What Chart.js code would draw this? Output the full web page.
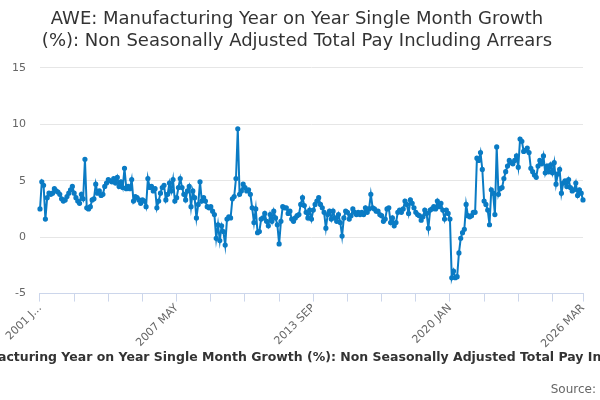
<!DOCTYPE html>
<html lang="en">
<head>
    <meta charset="UTF-8">
    <title>AWE: Manufacturing Year on Year Single Month Growth</title>
    <script src="https://cdn.jsdelivr.net/npm/chart.js"></script>
    <style>
        html, body { margin: 0; padding: 0; background: #fff; }
        #wrap { width: 600px; height: 400px; }
    </style>
</head>
<body>
    <div id="wrap"><canvas id="aweChart"></canvas></div>

    <script>
        // Monthly series, 2001 JAN .. 2026 MAR
        const startYear = 2001;
        const monthNames = ['JAN', 'FEB', 'MAR', 'APR', 'MAY', 'JUN', 'JUL', 'AUG', 'SEP', 'OCT', 'NOV', 'DEC'];

        const growth2001to2005 = [
            2.5, 4.9, 4.6, 1.6, 3.5, 3.9, 3.8, 3.9, 4.3, 4.1, 4.0, 3.8, 3.4, 3.2, 3.3, 3.6, 3.9, 4.2, 4.5, 3.9,
            3.5, 3.2, 3.0, 3.8, 3.4, 6.9, 2.6, 2.5, 2.7, 3.3, 3.4, 4.7, 3.9, 4.1, 3.7, 3.8, 4.5, 4.8, 5.1, 5.0,
            4.9, 5.2, 4.8, 5.3, 4.5, 4.9, 4.4, 6.1, 4.3, 4.5
        ];
        const growth2005to2009 = [
            4.3, 5.1, 3.2, 3.6, 3.5, 3.3, 3.0, 3.3, 3.2, 2.7, 5.2, 4.4, 4.5, 4.1, 4.3, 2.6, 3.2, 3.9, 4.4, 4.6,
            3.3, 3.8, 4.8, 4.1, 5.1, 3.2, 3.5, 4.4, 5.2, 4.4, 3.8, 3.3, 4.1, 4.5, 2.7, 4.1, 3.5, 1.7, 2.9, 4.9,
            3.2, 3.5, 3.2, 2.7, 2.6, 2.7, 2.3, 2.0, -0.1, 1.1, -0.3, 1.0, 0.5, -0.7
        ];
        const growth2009to2013 = [
            1.6, 1.8, 1.7, 3.4, 3.6, 5.2, 9.6, 3.8, 4.1, 4.7, 4.4, 4.1, 4.2, 3.8, 2.6, 1.3, 2.5, 0.4, 0.5, 1.6,
            1.7, 2.1, 1.4, 1.0, 2.0, 1.4, 2.3, 1.7, 1.1, -0.6, 1.4, 2.7, 2.6, 2.6, 2.1, 2.3, 1.6, 1.4, 1.7, 1.9,
            2.0, 2.9, 3.5
        ];
        const growth2013to2017 = [
            2.8, 2.2, 1.7, 2.4, 1.6, 2.4, 2.9, 3.2, 3.5, 2.9, 2.6, 2.2, 0.8, 2.0, 2.3, 1.6, 2.3, 1.7, 1.4, 2.0,
            1.3, 0.1, 1.7, 2.3, 2.2, 1.6, 1.9, 2.5, 2.2, 2.0, 2.2, 2.0, 2.2, 2.0, 2.6, 2.2, 2.5, 3.8, 2.6, 2.5,
            2.3, 2.3, 2.0, 1.9, 1.4, 1.6, 2.5, 2.6, 1.3, 1.7, 1.0, 1.3, 2.2, 2.4, 2.2, 2.5, 3.2
        ];
        const growth2018to2021 = [
            2.9, 2.1, 3.3, 3.0, 2.6, 2.2, 2.0, 1.9, 1.5, 1.8, 2.4, 2.1, 0.8, 2.4, 2.5, 2.7, 2.5, 3.2, 2.7, 3.0,
            2.4, 1.6, 2.4, 2.1, 1.6, -3.6, -3.0, -3.6, -3.5, -1.4, -0.1, 0.4, 0.7, 2.9, 1.9, 1.8, 1.9, 2.2, 2.2
        ];
        const growth2021to2026 = [
            7.0, 6.8, 7.5, 6.0, 3.2, 2.9, 2.4, 1.1, 4.2, 3.9, 2.0, 8.0, 3.8, 4.3, 4.4, 5.2, 5.8, 6.3, 6.8, 6.6,
            6.5, 6.8, 7.2, 6.2, 8.7, 8.5, 7.6, 7.7, 7.9, 7.5, 6.1, 5.8, 5.5, 5.3, 6.3, 6.8, 6.5, 7.2, 5.7, 6.3,
            5.8, 6.4, 5.7, 6.6, 4.7, 5.6, 6.0, 3.9, 4.8, 5.0, 4.5, 5.1, 4.4, 4.1, 4.2, 4.8, 3.7, 4.2, 3.9, 3.3
        ];

        const yTicks = [-5, 0, 5, 10, 15];
        const seriesName = 'AWE: Manufacturing Year on Year Single Month Growth (%): Non Seasonally Adjusted Total Pay Including Arrears';

        const values = [].concat(growth2001to2005, growth2005to2009, growth2009to2013,
            growth2013to2017, growth2018to2021, growth2021to2026);

        const labels = values.map((v, i) => (startYear + Math.floor(i / 12)) + ' ' + monthNames[i % 12]);
        const lastIdx = labels.length - 1;

        // Chart.js squeezes axis titles into the axis width; draw it at full width instead
        const xTitleFont = { family: 'DejaVu Sans', size: 12.5, weight: 'bold' };
        const xTitlePad = { top: 0, bottom: 15 };
        const wideAxisTitle = {
            id: 'wideAxisTitle',
            afterDraw(chart) {
                const s = chart.scales.x;
                const ctx = chart.ctx;
                const lh = xTitleFont.size * 1.2;
                ctx.save();
                ctx.font = 'bold ' + xTitleFont.size + 'px "' + xTitleFont.family + '"';
                ctx.fillStyle = '#333';
                ctx.textAlign = 'center';
                ctx.textBaseline = 'middle';
                ctx.fillText(seriesName, (s.left + s.right) / 2, s.bottom - xTitlePad.bottom - lh / 2);
                ctx.restore();
            }
        };

        new Chart(document.getElementById('aweChart'), {
            type: 'line',
            data: {
                labels: labels,
                datasets: [{
                    label: seriesName,
                    data: values,
                    borderColor: '#0a7bc4',
                    backgroundColor: '#0a7bc4',
                    borderWidth: 2,
                    pointRadius: 1.6,
                    pointHoverRadius: 3,
                    tension: 0
                }]
            },
            plugins: [wideAxisTitle],
            options: {
                responsive: true,
                maintainAspectRatio: false,
                animation: false,
                layout: { padding: { left: -2, right: 4, top: 4, bottom: 3 } },
                plugins: {
                    legend: { display: false },
                    title: {
                        display: true,
                        text: ['AWE: Manufacturing Year on Year Single Month Growth', '(%): Non Seasonally Adjusted Total Pay Including Arrears'],
                        color: '#333',
                        font: { family: 'DejaVu Sans', size: 18, weight: 'normal', lineHeight: 1.22 },
                        padding: { top: 4, bottom: 16 }
                    },
                    subtitle: {
                        display: true,
                        position: 'bottom',
                        align: 'end',
                        text: 'Source:',
                        color: '#666',
                        font: { family: 'DejaVu Sans', size: 12 },
                        padding: { top: 2, bottom: 0 }
                    }
                },
                scales: {
                    x: {
                        grid: {
                            drawOnChartArea: false,
                            drawTicks: true,
                            tickLength: 8,
                            color: '#ccd6eb'
                        },
                        border: { display: true, color: '#ccd6eb' },
                        ticks: {
                            autoSkip: false,
                            maxRotation: 45,
                            minRotation: 45,
                            padding: 0,
                            color: '#666',
                            font: { family: 'DejaVu Sans', size: 11 },
                            callback: function (val, idx) {
                                if (idx === 0) return labels[0].slice(0, 6) + '...';
                                if (idx % 76 === 0 || idx === lastIdx) return labels[idx];
                                if (idx % 19 === 0) return '';
                                return null;
                            }
                        },
                        title: {
                            display: true,
                            text: seriesName,
                            color: 'rgba(0,0,0,0)',
                            font: xTitleFont,
                            padding: xTitlePad
                        }
                    },
                    y: {
                        min: -5,
                        max: 15,
                        afterBuildTicks: axis => { axis.ticks = yTicks.map(v => ({ value: v })); },
                        grid: { color: '#e6e6e6', drawTicks: false },
                        border: { display: false },
                        ticks: {
                            color: '#666',
                            padding: 14,
                            font: { family: 'DejaVu Sans', size: 11 }
                        }
                    },
                    // empty spacer on the right so the plot ends short of the canvas edge
                    ySpacer: {
                        position: 'right',
                        grid: { display: false },
                        border: { display: false },
                        ticks: { display: false },
                        afterFit: axis => { axis.width = 13; }
                    }
                }
            }
        });
    </script>
</body>
</html>
